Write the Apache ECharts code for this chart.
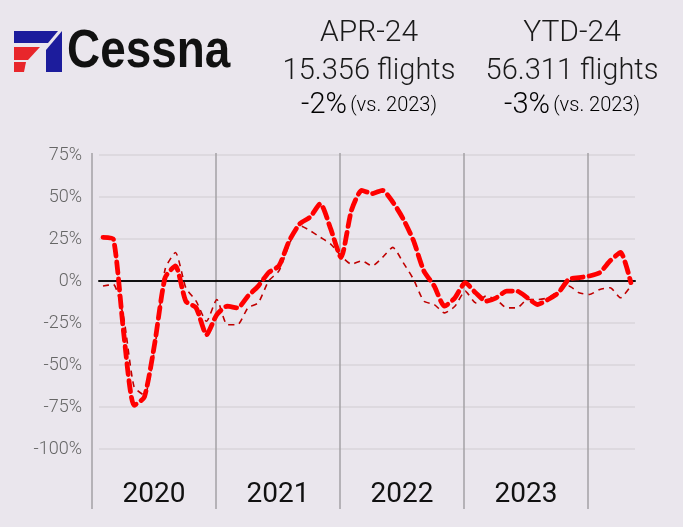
<!DOCTYPE html>
<html>
<head>
<meta charset="utf-8">
<script src="https://cdn.jsdelivr.net/npm/echarts@6/dist/echarts.min.js"></script>
<style>
html,body{margin:0;padding:0;background:#eae6ed;}
#chart{width:683px;height:527px;}
</style>
</head>
<body>
<div id="chart"></div>
<script>
// Month index 0 = Jan 2020 ... 51 = Apr 2024
const monthLabels = [];
for (let y = 2020; y <= 2024; y++) {
  for (let m = 1; m <= 12; m++) {
    if (y === 2024 && m > 4) break;
    monthLabels.push(y + '-' + (m < 10 ? '0' + m : m));
  }
}
const yearLabels = ['2020', '2021', '2022', '2023'];
const yTicks = [-100, -75, -50, -25, 0, 25, 50, 75];

// Thick dashed red series (% change vs prior year)
const thickValues = [
  26, 25, -31, -74, -69, -37, 2, 9, -12, -16, -32, -20,
  -15, -16, -9, -3, 5, 9, 24, 34, 38, 46, 31, 14,
  42, 54, 52, 54, 47, 37, 24, 6, -3, -15, -10, -1,
  -7, -12, -10, -6, -6, -10, -14, -11, -7, 1, 2, 3,
  5, 12, 17, -1
];
// Thin dashed dark-red series
const thinValues = [
  -3, -2, -22, -63, -68, -40, 7, 17, -4, -12, -24, -11,
  -26, -26, -16, -13, 0, 6, 22, 33, 30, 26, 22, 15,
  10, 12, 9, 14, 20, 11, 1, -12, -14, -19, -15, -6,
  -13, -9, -11, -16, -16, -11, -11, -10, -6, -3, -7, -8,
  -5, -4, -10, -3
];

const toPts = arr => arr.map((v, i) => [i, v]);

const chart = echarts.init(document.getElementById('chart'), null, {renderer: 'canvas'});
const FONT = 'Roboto';
const option = {
  backgroundColor: '#eae6ed',
  animation: false,
  grid: [
    {left: 99, right: 48, top: 155, bottom: 78},
    {left: 92, right: 48, top: 153, bottom: 18},
    {left: 92, right: 48, top: 153, bottom: 52}
  ],
  xAxis: [
    {gridIndex: 0, type: 'value', min: -0.3865, max: 51.40,
      axisLine: {show: true, onZero: true, lineStyle: {color: '#111', width: 2}},
      axisTick: {show: false}, axisLabel: {show: false}, splitLine: {show: false}},
    {gridIndex: 1, type: 'value', min: 0, max: 4.379, interval: 1,
      axisLine: {show: false}, axisTick: {show: false}, axisLabel: {show: false},
      splitLine: {show: true, showMaxLine: false, lineStyle: {color: '#a3a1a5', width: 1.5}}},
    {gridIndex: 2, type: 'value', min: 0, max: 4.379, interval: 0.5,
      axisLine: {show: false}, axisTick: {show: false}, splitLine: {show: false},
      axisLabel: {margin: 6, fontSize: 28, color: '#111', fontFamily: FONT,
        formatter: function (v) {
          const d = v - Math.floor(v);
          if (Math.abs(d - 0.5) < 1e-6) {
            const idx = Math.floor(v);
            return yearLabels[idx] || '';
          }
          return '';
        }}}
  ],
  yAxis: [
    {gridIndex: 0, type: 'value', min: yTicks[0], max: yTicks[yTicks.length - 1], interval: 25,
      axisLine: {show: false}, axisTick: {show: false},
      splitLine: {show: true, lineStyle: {color: '#d8d5da', width: 1.5}},
      axisLabel: {margin: 17, fontSize: 18, color: '#666', fontFamily: FONT, fontWeight: 300, formatter: '{value}%'}},
    {gridIndex: 1, type: 'value', show: false},
    {gridIndex: 2, type: 'value', show: false}
  ],
  series: [
    {name: 'Thin', type: 'line', xAxisIndex: 0, yAxisIndex: 0, data: toPts(thinValues),
      showSymbol: false, smooth: 0.2,
      lineStyle: {color: '#c00000', width: 1.6, type: [6, 5]}},
    {name: 'Thick', type: 'line', xAxisIndex: 0, yAxisIndex: 0, data: toPts(thickValues),
      showSymbol: false, smooth: 0.2,
      lineStyle: {color: '#ff0000', width: 4.8, type: [11, 6], cap: 'round'}}
  ],
  graphic: [
    // logo icon
    {type: 'polygon', shape: {points: [[14, 31], [58, 31], [48, 43], [14, 43]]}, style: {fill: '#1c1c9c'}},
    {type: 'polygon', shape: {points: [[62, 31], [62, 72], [46, 72], [46, 50]]}, style: {fill: '#1c1c9c'}},
    {type: 'polygon', shape: {points: [[14, 47], [40, 47], [28, 60], [14, 60]]}, style: {fill: '#e8262b'}},
    {type: 'polygon', shape: {points: [[14, 62], [26, 62], [24, 72], [14, 72]]}, style: {fill: '#e8262b'}},
    {type: 'text', x: 67, y: 52, scaleX: 0.85,
      style: {text: 'Cessna', font: 'bold 54px "Liberation Sans", Arial, sans-serif', fill: '#111',
        textAlign: 'left', textVerticalAlign: 'middle'}},
    // headers
    {type: 'text', x: 369, y: 33, style: {text: 'APR-24', font: '300 30px Roboto', fill: '#1a1a1a', textAlign: 'center', textVerticalAlign: 'middle'}},
    {type: 'text', x: 369, y: 72, style: {text: '15.356 flights', font: '300 29px Roboto', fill: '#1a1a1a', textAlign: 'center', textVerticalAlign: 'middle'}},
    {type: 'text', x: 369, y: 106, style: {text: '{a|-2%} {b|(vs. 2023)}', textAlign: 'center', textVerticalAlign: 'middle',
      rich: {a: {fontSize: 29, fontFamily: FONT, fontWeight: 300, color: '#1a1a1a'}, b: {fontSize: 20, fontFamily: FONT, fontWeight: 300, color: '#1a1a1a'}}}},
    {type: 'text', x: 572, y: 33, style: {text: 'YTD-24', font: '300 30px Roboto', fill: '#1a1a1a', textAlign: 'center', textVerticalAlign: 'middle'}},
    {type: 'text', x: 572, y: 72, style: {text: '56.311 flights', font: '300 29px Roboto', fill: '#1a1a1a', textAlign: 'center', textVerticalAlign: 'middle'}},
    {type: 'text', x: 572, y: 106, style: {text: '{a|-3%} {b|(vs. 2023)}', textAlign: 'center', textVerticalAlign: 'middle',
      rich: {a: {fontSize: 29, fontFamily: FONT, fontWeight: 300, color: '#1a1a1a'}, b: {fontSize: 20, fontFamily: FONT, fontWeight: 300, color: '#1a1a1a'}}}}
  ]
};
chart.setOption(option);
</script>
</body>
</html>
